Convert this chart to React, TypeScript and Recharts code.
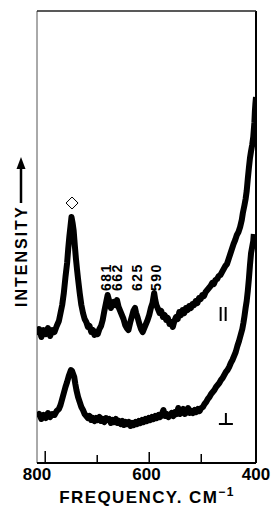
import React from "react";
import { LineChart, Line, XAxis, YAxis, ReferenceLine, ReferenceDot } from "recharts";

// parallel (||) spectrum: [frequency cm-1, intensity a.u.]
const PARALLEL: [number, number][] = [
  [800, 128], [796, 134], [792, 126], [788, 133], [784, 129], [780, 135], [776, 127], [772, 133],
  [768, 131], [764, 137], [760, 142], [757, 150], [754, 158], [751, 170], [748, 186], [745, 200],
  [743, 214], [741, 226], [739, 236], [737, 246], [735, 240], [733, 232], [731, 218], [729, 205],
  [727, 194], [725, 184], [722, 170], [719, 158], [716, 150], [713, 144], [710, 141], [707, 136],
  [704, 137], [701, 131], [698, 133], [695, 128], [692, 131], [689, 129], [686, 134], [683, 137],
  [680, 143], [677, 152], [674, 160], [671, 168], [669, 164], [667, 160], [665, 155], [663, 158],
  [660, 161], [657, 158], [654, 163], [651, 156], [648, 152], [645, 148], [642, 144], [639, 138],
  [636, 135], [633, 133], [630, 140], [627, 146], [624, 152], [621, 155], [619, 150], [616, 145],
  [613, 139], [610, 134], [607, 131], [604, 135], [601, 139], [598, 143], [595, 148], [592, 155],
  [589, 160], [586, 170], [584, 163], [582, 158], [579, 154], [576, 150], [573, 152], [570, 146],
  [567, 148], [564, 143], [561, 145], [558, 139], [555, 141], [552, 136], [549, 142], [546, 146],
  [543, 144], [540, 151], [537, 148], [534, 153], [531, 150], [528, 155], [525, 153], [522, 157],
  [519, 155], [516, 159], [513, 158], [510, 162], [507, 160], [504, 165], [501, 164], [498, 168],
  [495, 167], [492, 171], [489, 173], [486, 175], [483, 177], [480, 180], [477, 179], [474, 183],
  [471, 184], [468, 187], [465, 188], [462, 191], [459, 194], [456, 197], [453, 199], [450, 204],
  [447, 209], [444, 214], [441, 219], [438, 223], [435, 228], [432, 231], [429, 236], [426, 243],
  [424, 250], [421, 258], [419, 264], [417, 272], [415, 284], [413, 295], [411, 305], [409, 312],
  [407, 318], [405, 326], [403, 340], [402, 352], [401, 360], [400, 366],
];

// perpendicular spectrum
const PERPENDICULAR: [number, number][] = [
  [800, 46], [796, 49], [792, 44], [788, 48], [784, 45], [780, 50], [776, 46], [772, 49],
  [768, 48], [764, 52], [760, 54], [757, 58], [754, 64], [751, 70], [748, 76], [745, 81],
  [742, 87], [740, 90], [738, 93], [736, 92], [734, 89], [732, 86], [730, 79], [728, 73],
  [725, 66], [722, 61], [719, 56], [716, 53], [713, 49], [710, 47], [707, 45], [704, 47],
  [701, 43], [698, 45], [695, 42], [692, 45], [689, 43], [686, 46], [683, 42], [680, 44],
  [677, 41], [674, 45], [671, 43], [668, 44], [665, 40], [662, 43], [659, 41], [656, 44],
  [653, 40], [650, 42], [647, 39], [644, 42], [641, 38], [638, 41], [635, 39], [632, 41],
  [629, 37], [626, 40], [623, 38], [620, 41], [617, 39], [614, 42], [611, 40], [608, 43],
  [605, 41], [602, 44], [599, 42], [596, 45], [593, 43], [590, 46], [587, 44], [584, 47],
  [581, 45], [578, 48], [575, 46], [572, 49], [569, 53], [566, 47], [563, 49], [560, 46],
  [557, 48], [554, 50], [551, 47], [548, 51], [545, 49], [542, 55], [539, 49], [536, 51],
  [533, 54], [530, 49], [527, 51], [524, 55], [521, 50], [518, 52], [515, 50], [512, 53],
  [509, 51], [506, 54], [503, 52], [500, 55], [497, 56], [494, 59], [491, 61], [488, 64],
  [485, 66], [482, 69], [479, 71], [476, 73], [473, 76], [470, 78], [467, 80], [464, 83],
  [461, 85], [458, 88], [455, 91], [452, 93], [449, 96], [446, 100], [443, 103], [440, 107],
  [437, 111], [434, 117], [431, 122], [428, 128], [425, 134], [423, 140], [421, 147], [419, 155],
  [417, 162], [415, 172], [413, 184], [411, 198], [409, 210], [407, 216], [405, 222], [404, 229],
];

const MAJOR_TICKS = [800, 600, 400];
const MINOR_TICKS = [785, 690, 595, 500];
const MINOR_LEN: Record<number, number> = { 785: 12, 690: 8, 595: 11, 500: 9 };

// peak annotations
const PEAK_LABELS = ["681", "662", "625", "590"];
const PEAK_POS = [674, 654, 617, 583];
const PEAK_LABEL_Y = 172;
const DIAMOND: [number, number] = [736, 260];
const PAR_MARK: [number, number] = [460, 149];
const PERP_MARK: [number, number] = [455, 39];

const FONT = "'Liberation Sans', Arial, Helvetica, sans-serif";

const toRows = (arr: [number, number][]) => arr.map(([f, v]) => ({ f, v }));

function Tick(props: any) {
  const { x, y, payload } = props;
  const v = payload.value;
  if (MAJOR_TICKS.includes(v)) {
    return (
      <text x={x} y={y + 5} dy="0.71em" textAnchor="middle" fontFamily={FONT}
        fontWeight="bold" fontSize={17} fill="#000">
        {v}
      </text>
    );
  }
  return <line x1={x} x2={x} y1={y} y2={y - (MINOR_LEN[v] || 8)} stroke="#000" strokeWidth={1.5} />;
}

export default function App() {
  const ticks = [...MAJOR_TICKS, ...MINOR_TICKS].sort((a, b) => b - a);
  return (
    <div style={{ position: "absolute", left: 0, top: 0, width: 271, height: 513, background: "#fff" }}>
      <LineChart width={271} height={513} margin={{ top: 11, right: 15, bottom: 20, left: 37 }}>
        <XAxis
          dataKey="f"
          type="number"
          domain={[400, 800]}
          reversed
          ticks={ticks}
          interval={0}
          tick={<Tick />}
          tickSize={0}
          tickMargin={0}
          height={30}
          axisLine={{ stroke: "#000", strokeWidth: 2 }}
          allowDataOverflow
        />
        <YAxis hide type="number" domain={[0, 452]} allowDataOverflow />
        <ReferenceLine x={800} stroke="#555" strokeWidth={1} />
        <ReferenceLine x={400} stroke="#000" strokeWidth={2} />
        <ReferenceLine y={452} stroke="#222" strokeWidth={1.5} />
        <Line data={toRows(PARALLEL)} dataKey="v" stroke="#000" strokeWidth={6} dot={false}
          strokeLinejoin="round" isAnimationActive={false} />
        <Line data={toRows(PERPENDICULAR)} dataKey="v" stroke="#000" strokeWidth={6} dot={false}
          strokeLinejoin="round" isAnimationActive={false} />
        {PEAK_LABELS.map((lab, i) => (
          <ReferenceDot key={lab} x={PEAK_POS[i]} y={PEAK_LABEL_Y} r={0}
            shape={(p: any) => (
              <text x={p.cx} y={p.cy} dy="0.36em" transform={`rotate(-90 ${p.cx} ${p.cy})`}
                fontFamily={FONT} fontWeight="bold" fontSize={14} letterSpacing={1.5} fill="#000">
                {lab}
              </text>
            )}
          />
        ))}
        <ReferenceDot x={DIAMOND[0]} y={DIAMOND[1]} r={0}
          shape={(p: any) => (
            <polygon
              points={`${p.cx},${p.cy - 6} ${p.cx + 6},${p.cy} ${p.cx},${p.cy + 6} ${p.cx - 6},${p.cy}`}
              fill="none" stroke="#000" strokeWidth={1} />
          )}
        />
        <ReferenceDot x={PAR_MARK[0]} y={PAR_MARK[1]} r={0}
          shape={(p: any) => (
            <g stroke="#000" strokeWidth={2}>
              <line x1={p.cx - 2.5} x2={p.cx - 2.5} y1={p.cy - 7} y2={p.cy + 7} />
              <line x1={p.cx + 2.5} x2={p.cx + 2.5} y1={p.cy - 7} y2={p.cy + 7} />
            </g>
          )}
        />
        <ReferenceDot x={PERP_MARK[0]} y={PERP_MARK[1]} r={0}
          shape={(p: any) => (
            <g stroke="#000" strokeWidth={2}>
              <line x1={p.cx} x2={p.cx} y1={p.cy - 11} y2={p.cy} />
              <line x1={p.cx - 7} x2={p.cx + 7} y1={p.cy} y2={p.cy} />
            </g>
          )}
        />
      </LineChart>
      <svg width={271} height={513} style={{ position: "absolute", left: 0, top: 0, pointerEvents: "none" }}>
        <text x={21} y={307} dy="0.36em" transform="rotate(-90 21 307)" fontFamily={FONT}
          fontWeight="bold" fontSize={16} letterSpacing={2} fill="#000">
          INTENSITY
        </text>
        <line x1={21} x2={21} y1={203} y2={166} stroke="#000" strokeWidth={2.5} />
        <polygon points="21,157 16.5,169 25.5,169" fill="#000" />
        <text x={147} y={503} textAnchor="middle" fontFamily={FONT} fontWeight="bold"
          fontSize={17} letterSpacing={1.4} fill="#000">
          FREQUENCY. CM<tspan dy={-7} fontSize={12}>−1</tspan>
        </text>
      </svg>
    </div>
  );
}
